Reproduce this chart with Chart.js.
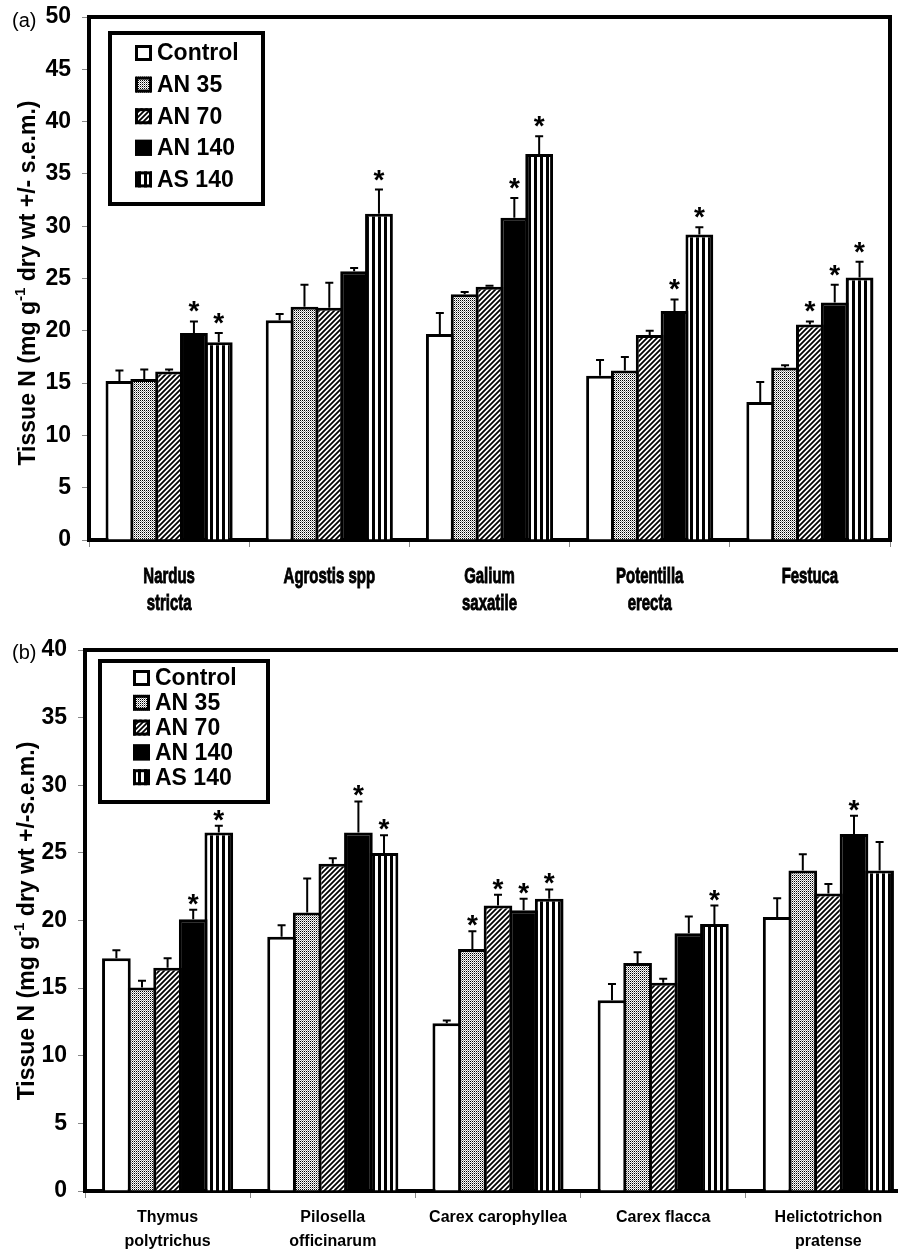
<!DOCTYPE html>
<html><head><meta charset="utf-8">
<script src="https://cdn.jsdelivr.net/npm/chart.js@4.4.0/dist/chart.umd.min.js"></script>
<style>
html,body{margin:0;padding:0;background:#fff;overflow:hidden;width:898px;height:1251px;}
#wrapA{position:absolute;left:0;top:0;width:898px;height:625px;overflow:hidden;}
#wrapB{position:absolute;left:0;top:625px;width:898px;height:626px;overflow:hidden;}
canvas{display:block;}
</style></head><body>
<div id="wrapA"><canvas id="chartA" width="898" height="625"></canvas></div>
<div id="wrapB"><canvas id="chartB" width="920" height="626"></canvas></div>
<script>
// ---------- data ----------
const seriesNames = ['Control', 'AN 35', 'AN 70', 'AN 140', 'AS 140'];

// Panel (a)
const categoriesA = [['Nardus', 'stricta'], ['Agrostis spp'], ['Galium', 'saxatile'], ['Potentilla', 'erecta'], ['Festuca']];
const controlA = [15.2, 21.0, 19.7, 15.7, 13.2];
const an35A    = [15.4, 22.3, 23.5, 16.2, 16.5];
const an70A    = [16.1, 22.2, 24.2, 19.6, 20.6];
const an140A   = [19.8, 25.7, 30.8, 21.9, 22.7];
const as140A   = [18.9, 31.2, 36.9, 29.2, 25.1];
const semControlA = [1.0, 0.6, 2.0, 1.5, 1.9];
const semAn35A    = [0.9, 2.1, 0.2, 1.3, 0.2];
const semAn70A    = [0.2, 2.4, 0.1, 0.4, 0.3];
const semAn140A   = [1.1, 0.3, 1.9, 1.1, 1.7];
const semAs140A   = [0.9, 2.3, 1.7, 0.7, 1.5];
const sigControlA = [false, false, false, false, false];
const sigAn35A    = [false, false, false, false, false];
const sigAn70A    = [false, false, false, false, true];
const sigAn140A   = [true, false, true, true, true];
const sigAs140A   = [true, true, true, true, true];
const yTicksA = [0, 5, 10, 15, 20, 25, 30, 35, 40, 45, 50];

// Panel (b)
const categoriesB = [['Thymus', 'polytrichus'], ['Pilosella', 'officinarum'], ['Carex carophyllea'], ['Carex flacca'], ['Helictotrichon', 'pratense']];
const controlB = [17.2, 18.8, 12.4, 14.1, 20.25];
const an35B    = [15.05, 20.6, 17.9, 16.85, 23.7];
const an70B    = [16.5, 24.2, 21.1, 15.4, 22.0];
const an140B   = [20.1, 26.5, 20.75, 19.05, 26.4];
const as140B   = [26.5, 25.0, 21.6, 19.75, 23.7];
const semControlB = [0.6, 0.85, 0.2, 1.2, 1.4];
const semAn35B    = [0.5, 2.5, 1.3, 0.8, 1.2];
const semAn70B    = [0.7, 0.4, 0.8, 0.3, 0.7];
const semAn140B   = [0.7, 2.3, 0.85, 1.25, 1.35];
const semAs140B   = [0.5, 1.3, 0.7, 1.35, 2.1];
const sigControlB = [false, false, false, false, false];
const sigAn35B    = [false, false, true, false, false];
const sigAn70B    = [false, false, true, false, false];
const sigAn140B   = [true, true, true, false, true];
const sigAs140B   = [true, true, true, true, false];
const yTicksB = [0, 5, 10, 15, 20, 25, 30, 35, 40];

// ---------- styles ----------
const FONT = '"Liberation Sans", Arial, Helvetica, sans-serif';

function makePattern(kind) {
  const c = document.createElement('canvas');
  const g = c.getContext('2d');
  if (kind === 'white') { return '#ffffff'; }
  if (kind === 'black') { return '#000000'; }
  if (kind === 'dots') {
    c.width = 2; c.height = 2;
    g.fillStyle = '#ffffff'; g.fillRect(0, 0, 2, 2);
    g.fillStyle = '#000000'; g.fillRect(0, 0, 1, 1);
    g.fillStyle = '#999999'; g.fillRect(1, 1, 1, 1);
  } else if (kind === 'hatch') {
    c.width = 5; c.height = 5;
    g.fillStyle = '#ffffff'; g.fillRect(0, 0, 5, 5);
    g.strokeStyle = '#000000'; g.lineWidth = 1.8;
    g.beginPath();
    g.moveTo(0, 5); g.lineTo(5, 0);
    g.moveTo(-3, 3); g.lineTo(3, -3);
    g.moveTo(2, 8); g.lineTo(8, 2);
    g.stroke();
  } else if (kind === 'stripes') {
    c.width = 6; c.height = 2;
    g.fillStyle = '#ffffff'; g.fillRect(0, 0, 6, 2);
    g.fillStyle = '#000000'; g.fillRect(0, 0, 3, 2);
  }
  return g.createPattern(c, 'repeat');
}
const fills = [makePattern('white'), makePattern('dots'), makePattern('hatch'), makePattern('black'), makePattern('stripes')];

function buildDatasets(arrs) {
  return arrs.map((d, i) => ({
    label: seriesNames[i],
    data: d,
    backgroundColor: fills[i],
    borderColor: '#000000',
    borderWidth: 3,
    borderSkipped: 'start',
    categoryPercentage: 0.775,
    barPercentage: 1.12
  }));
}

function drawTitle(ctx, cx, cy, parts) {
  ctx.save();
  ctx.translate(cx, cy);
  ctx.rotate(-Math.PI / 2);
  let total = 0;
  parts.forEach(p => { ctx.font = p.font; p.w = ctx.measureText(p.t).width; total += p.w; });
  let x = -total / 2;
  ctx.textAlign = 'left'; ctx.textBaseline = 'alphabetic'; ctx.fillStyle = '#000';
  parts.forEach(p => { ctx.font = p.font; ctx.fillText(p.t, x, p.dy); x += p.w; });
  ctx.restore();
}

const overlay = {
  id: 'overlay',
  afterDatasetsDraw(chart, args, opts) {
    const ctx = chart.ctx;
    const ys = chart.scales.y;
    ctx.save();
    opts.sem.forEach((arr, i) => {
      const meta = chart.getDatasetMeta(i);
      meta.data.forEach((bar, j) => {
        const v = chart.data.datasets[i].data[j];
        const top = ys.getPixelForValue(v + arr[j]);
        ctx.strokeStyle = '#000'; ctx.lineWidth = 2;
        ctx.beginPath();
        ctx.moveTo(bar.x, bar.y); ctx.lineTo(bar.x, top);
        ctx.moveTo(bar.x - 4, top); ctx.lineTo(bar.x + 4, top);
        ctx.stroke();
        if (opts.sig[i][j]) {
          ctx.fillStyle = '#000';
          ctx.font = 'bold 28px ' + FONT;
          ctx.textAlign = 'center'; ctx.textBaseline = 'alphabetic';
          ctx.fillText('*', bar.x, top - opts.astOff);
        }
      });
    });
    ctx.restore();
  },
  afterDraw(chart, args, opts) {
    const ctx = chart.ctx;
    const a = chart.chartArea;
    ctx.save();
    // frame
    ctx.strokeStyle = '#000'; ctx.lineWidth = 4;
    ctx.beginPath();
    ctx.moveTo(a.left - 2, a.top); ctx.lineTo(opts.fullBox ? a.right + 2 : chart.width, a.top);
    if (opts.fullBox) { ctx.moveTo(a.right, a.top); ctx.lineTo(a.right, a.bottom + 2); }
    ctx.stroke();
    // condensed category labels (positioned by the category scale)
    if (opts.condensedX) {
      const xs = chart.scales.x;
      ctx.fillStyle = '#000'; ctx.strokeStyle = '#000'; ctx.lineWidth = 0.9;
      ctx.font = 'bold 22px ' + FONT;
      ctx.textAlign = 'center'; ctx.textBaseline = 'middle';
      chart.data.labels.forEach((lab, i) => {
        const px = xs.getPixelForTick(i);
        const lines = Array.isArray(lab) ? lab : [lab];
        lines.forEach((ln, k) => {
          ctx.save();
          ctx.translate(px, opts.condensedX.y + k * opts.condensedX.step);
          ctx.scale(opts.condensedX.sx, 1);
          ctx.fillText(ln, 0, 0);
          ctx.strokeText(ln, 0, 0);
          ctx.restore();
        });
      });
    }
    // panel label
    ctx.fillStyle = '#000';
    ctx.font = '20px ' + FONT;
    ctx.textAlign = 'left'; ctx.textBaseline = 'middle';
    ctx.fillText(opts.panel, 12, opts.panelY);
    // y title
    drawTitle(ctx, opts.titleX, opts.titleY, [
      { t: 'Tissue N (mg g', font: 'bold 23px ' + FONT, dy: 0 },
      { t: '-1', font: 'bold 15px ' + FONT, dy: -10 },
      { t: opts.titleRest, font: 'bold 23px ' + FONT, dy: 0 }
    ]);
    // legend
    const L = opts.legend;
    ctx.lineWidth = 4; ctx.strokeStyle = '#000';
    ctx.fillStyle = '#fff';
    ctx.fillRect(L.x, L.y, L.w, L.h);
    ctx.strokeRect(L.x, L.y, L.w, L.h);
    seriesNames.forEach((name, i) => {
      const cy = L.row0 + i * L.step;
      ctx.fillStyle = fills[i];
      ctx.fillRect(L.ix, cy - 8, 17, 16);
      ctx.lineWidth = 3; ctx.strokeStyle = '#000';
      ctx.strokeRect(L.ix + 1.5, cy - 6.5, 14, 13);
      ctx.fillStyle = '#000';
      ctx.font = 'bold 23px ' + FONT;
      ctx.textAlign = 'left'; ctx.textBaseline = 'middle';
      ctx.fillText(name, L.tx, cy + 1);
    });
    ctx.restore();
  }
};

function makeChart(id, cats, data, sems, sigs, ymax, ticks, cfg) {
  return new Chart(document.getElementById(id), {
    type: 'bar',
    data: { labels: cats, datasets: buildDatasets(data) },
    plugins: [overlay],
    options: {
      responsive: false,
      devicePixelRatio: 1,
      animation: false,
      layout: { padding: { top: cfg.padTop, right: cfg.padRight, left: 0, bottom: 0 } },
      plugins: {
        legend: { display: false },
        tooltip: { enabled: false },
        overlay: {
          sem: sems, sig: sigs, astOff: cfg.astOff, fullBox: cfg.fullBox,
          panel: cfg.panel, panelY: cfg.panelY,
          titleX: cfg.titleX, titleY: cfg.titleY, titleRest: cfg.titleRest,
          legend: cfg.legend, condensedX: cfg.condensedX
        }
      },
      scales: {
        x: {
          grid: { display: true, offset: true, drawOnChartArea: false, tickLength: 7, color: '#888', lineWidth: 1 },
          border: { display: true, width: 4, color: '#000' },
          ticks: { display: !cfg.condensedX, color: '#000', font: cfg.xFont, padding: cfg.xPad, maxRotation: 0, minRotation: 0, autoSkip: false },
          afterFit: s => { s.height = cfg.xHeight; s.paddingLeft = 0; s.paddingRight = 0; }
        },
        y: {
          min: 0, max: ymax,
          afterBuildTicks: s => { s.ticks = ticks.map(v => ({ value: v })); },
          grid: { display: true, drawOnChartArea: false, tickLength: 7, color: '#888', lineWidth: 1 },
          border: { display: true, width: 4, color: '#000' },
          ticks: { color: '#000', font: { family: FONT, size: 23, weight: 'bold' }, padding: 11 },
          afterFit: s => { s.width = cfg.yWidth; s.paddingTop = 0; s.paddingBottom = 0; }
        }
      }
    }
  });
}

makeChart('chartA', categoriesA,
  [controlA, an35A, an70A, an140A, as140A],
  [semControlA, semAn35A, semAn70A, semAn140A, semAs140A],
  [sigControlA, sigAn35A, sigAn70A, sigAn140A, sigAs140A],
  50, yTicksA,
  { padTop: 17, padRight: 8, yWidth: 89, xHeight: 85, astOff: 1, fullBox: true,
    panel: '(a)', panelY: 21, titleX: 35, titleY: 283, titleRest: ' dry wt +/- s.e.m.)',
    xFont: { family: FONT, size: 21, weight: 'bold', lineHeight: 1.25 }, xPad: 15,
    condensedX: { y: 577, step: 27, sx: 0.68 },
    legend: { x: 110, y: 33, w: 153, h: 171, ix: 135, tx: 157, row0: 53, step: 31.6 } });

makeChart('chartB', categoriesB,
  [controlB, an35B, an70B, an140B, as140B],
  [semControlB, semAn35B, semAn70B, semAn140B, semAs140B],
  [sigControlB, sigAn35B, sigAn70B, sigAn140B, sigAs140B],
  40, yTicksB,
  { padTop: 25, padRight: 9, yWidth: 85, xHeight: 60, astOff: -3, fullBox: false,
    panel: '(b)', panelY: 28, titleX: 34, titleY: 296, titleRest: ' dry wt +/-s.e.m.)',
    xFont: { family: FONT, size: 16, weight: 'bold', lineHeight: 1.5 }, xPad: 8,
    condensedX: null,
    legend: { x: 100, y: 36, w: 168, h: 141, ix: 133, tx: 155, row0: 53, step: 24.8 } });
</script>
</body></html>
